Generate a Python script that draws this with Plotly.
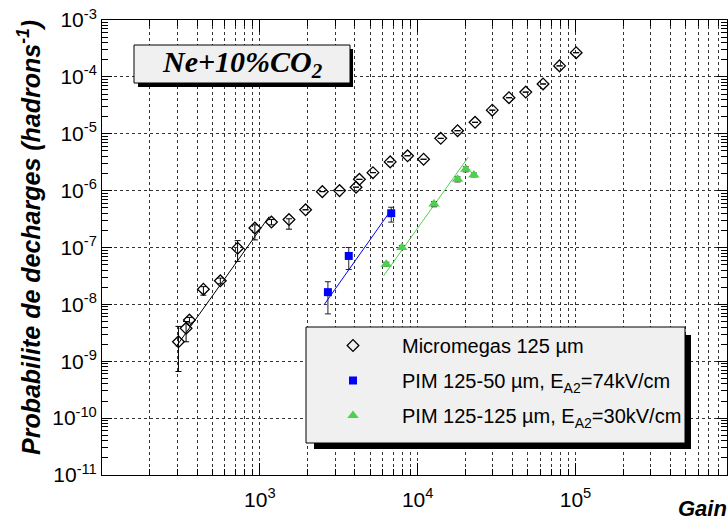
import numpy as np
import plotly.graph_objects as go

# Micromegas 125 um (open diamonds)
mm_gain = [305, 341, 358, 439, 562, 723, 930, 1185, 1530, 1950, 2490, 3200, 4070,
           4275, 5210, 6700, 8630, 10900, 14000, 17900, 23100, 29700, 37900,
           48400, 62300, 79300, 101000]
mm_prob = [2.2e-9, 3.8e-9, 5.3e-9, 1.85e-8, 2.6e-8, 9.7e-8, 2.2e-7, 2.8e-7, 3.1e-7,
           4.6e-7, 9.6e-7, 1.0e-6, 1.15e-6, 1.58e-6, 2.07e-6, 3.2e-6, 4.1e-6,
           3.56e-6, 8.3e-6, 1.13e-5, 1.59e-5, 2.6e-5, 4.3e-5, 5.4e-5, 7.5e-5,
           1.56e-4, 2.66e-4]
mm_err_up = [1.9e-9, 1.2e-9, 0.6e-9, 0.2e-8, 0.3e-8, 3.5e-8, 0.3e-7, 0.3e-7, 0.1e-7,
             0, 0, 0, 0, 0, 0, 0, 0, 0, 0, 0, 0, 0, 0, 0, 0, 0, 0]
mm_err_dn = [1.54e-9, 1.6e-9, 0.6e-9, 0.4e-8, 0.3e-8, 4.0e-8, 0.84e-7, 0.3e-7, 1.0e-7,
             0, 0, 0, 0, 0, 0, 0, 0, 0, 0, 0, 0, 0, 0, 0, 0, 0, 0]
mm_fit_gain = [295, 1145]
mm_fit_prob = [1.81e-9, 3.49e-7]

# PIM 125-50 um (blue squares)
p50_gain = [2700, 3660, 6800]
p50_prob = [1.64e-8, 7.1e-8, 4.0e-7]
p50_err_up = [0.86e-8, 2.9e-8, 1.1e-7]
p50_err_dn = [0.96e-8, 3.0e-8, 1.2e-7]
p50_fit_gain = [2550, 6800]
p50_fit_prob = [9.8e-9, 4.6e-7]

# PIM 125-125 um (green triangles)
p125_gain = [6330, 7950, 12700, 17900, 20200, 22700]
p125_prob = [5.1e-8, 1.0e-7, 5.8e-7, 1.58e-6, 2.38e-6, 1.89e-6]
p125_err = [0.4e-8, 0.8e-8, 0.6e-7, 1.6e-7, 2.4e-7, 1.5e-7]
p125_fit_gain = [6080, 20900]
p125_fit_prob = [3.17e-8, 3.86e-6]

x_major = [1e3, 1e4, 1e5]
x_labels = ["10<sup>3</sup>", "10<sup>4</sup>", "10<sup>5</sup>"]
y_major = [10.0 ** n for n in range(-11, -2)]
y_labels = ["10<sup>%d</sup>" % n for n in range(-11, -2)]

BLUE = "#0000ff"
GREEN = "#4fcf4f"
GRID = "#333333"
FONT = "Liberation Sans"

# plot area in pixels: x 102..727, y 20..475
def px(x):
    return (x - 102) / 625.0

def py(y):
    return (475 - y) / 455.0

x_minor = [k * 10.0 ** n for n in range(2, 6) for k in range(2, 10)]
y_minor = [k * 10.0 ** n for n in range(-11, -3) for k in range(2, 10)]

fig = go.Figure()

# fit lines
for gx, gy, col in [(mm_fit_gain, mm_fit_prob, "black"),
                    (p50_fit_gain, p50_fit_prob, BLUE),
                    (p125_fit_gain, p125_fit_prob, GREEN)]:
    fig.add_trace(go.Scatter(x=gx, y=gy, mode="lines", line=dict(color=col, width=1),
                             showlegend=False, hoverinfo="skip"))

fig.add_trace(go.Scatter(
    x=mm_gain, y=mm_prob, mode="markers", name="Micromegas 125 µm", legendgroup="a",
    marker=dict(symbol="diamond-open", size=9, color="black", line=dict(width=1.3)),
    error_y=dict(type="data", symmetric=False, array=mm_err_up, arrayminus=mm_err_dn,
                 color="black", thickness=1, width=3),
))
fig.add_trace(go.Scatter(
    x=p50_gain, y=p50_prob, mode="markers", legendgroup="b",
    name="PIM 125-50 µm, E<sub>A2</sub>=74kV/cm",
    marker=dict(symbol="square", size=8, color=BLUE),
    error_y=dict(type="data", symmetric=False, array=p50_err_up, arrayminus=p50_err_dn,
                 color="#222222", thickness=1, width=3),
))
fig.add_trace(go.Scatter(
    x=p125_gain, y=p125_prob, mode="markers", legendgroup="c",
    name="PIM 125-125 µm, E<sub>A2</sub>=30kV/cm",
    marker=dict(symbol="triangle-up", size=10, color=GREEN),
    error_y=dict(type="data", array=p125_err, color="#222222", thickness=1, width=3),
))

shapes = [
    # title box + shadow
    dict(type="rect", xref="paper", yref="paper", x0=px(138), x1=px(353), y0=py(87), y1=py(49),
         fillcolor="black", line=dict(width=0), layer="above"),
    dict(type="rect", xref="paper", yref="paper", x0=px(134), x1=px(350), y0=py(83), y1=py(45),
         fillcolor="#f0f0f0", line=dict(color="black", width=1), layer="above"),
    # legend box + shadow
    dict(type="rect", xref="paper", yref="paper", x0=px(314), x1=px(691), y0=py(449), y1=py(335),
         fillcolor="black", line=dict(width=0), layer="above"),
    dict(type="rect", xref="paper", yref="paper", x0=px(306), x1=px(685), y0=py(443), y1=py(327),
         fillcolor="#f0f0f0", line=dict(color="black", width=1), layer="above"),
]

annotations = [
    dict(text="<b><i>Ne+10%CO<sub>2</sub></i></b>", xref="paper", yref="paper",
         x=px(242), y=py(64), showarrow=False, xanchor="center", yanchor="middle",
         font=dict(family="Liberation Serif", size=30, color="black")),
    dict(text="<b><i>Probabilite de decharges (hadrons<sup>-1</sup>)</i></b>",
         xref="paper", yref="paper", x=px(29), y=py(238), textangle=-90,
         showarrow=False, xanchor="center", yanchor="middle",
         font=dict(family=FONT, size=25, color="black")),
    dict(text="<b><i>Gain</i></b>", xref="paper", yref="paper", x=px(729), y=py(508),
         showarrow=False, xanchor="right", yanchor="middle",
         font=dict(family=FONT, size=22, color="black")),
]

axis_common = dict(
    type="log", showline=True, linecolor="black", linewidth=1, mirror="ticks",
    ticks="inside", tickcolor="black", zeroline=False,
    gridcolor=GRID, griddash="dot", gridwidth=1,
    tickfont=dict(family=FONT, size=21, color="black"),
)

fig.update_layout(
    width=728, height=521,
    margin=dict(l=102, r=1, t=20, b=46, autoexpand=False),
    paper_bgcolor="white", plot_bgcolor="white",
    xaxis=dict(axis_common, range=[2, 5.96], tickmode="array", tickvals=x_major,
               ticktext=x_labels, ticklen=12, automargin=False, ticklabelstandoff=6,
               minor=dict(tickmode="array", tickvals=x_minor, ticks="inside", ticklen=6,
                          tickcolor="black", showgrid=True, gridcolor=GRID,
                          griddash="dot", gridwidth=1)),
    yaxis=dict(axis_common, range=[-11, -3], tickmode="array", tickvals=y_major,
               ticktext=y_labels, ticklen=10, automargin=False,
               minor=dict(tickmode="array", tickvals=y_minor, ticks="inside", ticklen=6,
                          tickcolor="black", showgrid=False)),
    legend=dict(x=px(304), y=py(326), xanchor="left", yanchor="top",
                bgcolor="rgba(0,0,0,0)", borderwidth=0, itemwidth=88,
                tracegroupgap=6, font=dict(family=FONT, size=20, color="black")),
    shapes=shapes,
    annotations=annotations,
)

fig.write_html("out.html", config={"displayModeBar": False},
               post_script="document.body.style.margin='0px';")
